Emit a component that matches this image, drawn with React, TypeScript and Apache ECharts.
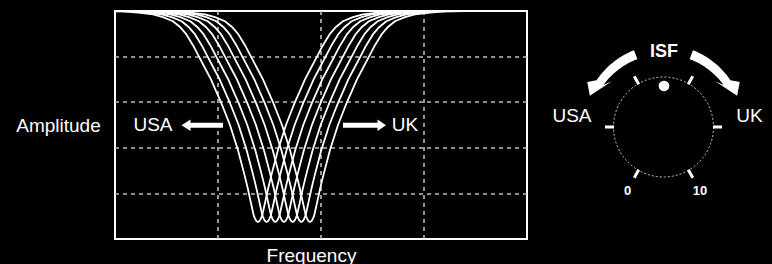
import React, { useEffect, useRef } from "react";
import * as echarts from "echarts";

// Centres (frequency, axis units) of the seven notch curves
const centers = [1.388, 1.472, 1.556, 1.64, 1.725, 1.809, 1.893];
// Notch profile: offset from centre (axis units) -> amplitude
const profileOffsets = [0, 0.0097, 0.0194, 0.0291, 0.0388, 0.0485, 0.0583, 0.068, 0.0777, 0.0971, 0.1165, 0.1359, 0.165, 0.1942, 0.233, 0.2718, 0.3107, 0.3592, 0.4078, 0.4563, 0.5146, 0.5728, 0.6311, 0.699, 0.7573, 0.8252, 0.9223, 1.0194, 1.165, 1.3107, 1.5534, 2.0];
const profileValues = [0.075, 0.077, 0.082, 0.09, 0.1, 0.118, 0.138, 0.158, 0.178, 0.218, 0.255, 0.29, 0.34, 0.39, 0.445, 0.5, 0.545, 0.6, 0.65, 0.7, 0.75, 0.8, 0.85, 0.9, 0.93, 0.955, 0.973, 0.985, 0.993, 0.998, 1, 1];

const xTicks = [0, 1, 2, 3, 4];
const yTicks = [0, 0.2, 0.4, 0.6, 0.8, 1];

const dialTicks = [0, 60, 120, 180, 240, 300];
const dialLabels = ["0", "10"];
const sideLabels = ["USA", "UK"];

const FONT = "Liberation Sans, Arial, Helvetica, sans-serif";

function buildSeriesData(c: number) {
  const pts: number[][] = [];
  for (let i = profileOffsets.length - 1; i >= 1; i--) pts.push([c - profileOffsets[i], profileValues[i]]);
  pts.push([c, profileValues[0]]);
  for (let i = 1; i < profileOffsets.length; i++) pts.push([c + profileOffsets[i], profileValues[i]]);
  return pts;
}

function polar(cx: number, cy: number, r: number, deg: number) {
  const a = (deg * Math.PI) / 180;
  return [cx + r * Math.cos(a), cy - r * Math.sin(a)];
}

function curvedArrow(cx: number, cy: number, mirror: boolean) {
  const m = (d: number) => (mirror ? 180 - d : d);
  const pts: number[][] = [];
  const a0 = 111, a1 = 145, rMid = 77.5;
  const steps = 16;
  for (let i = 0; i <= steps; i++) {
    const a = a0 + ((a1 - a0) * i) / steps;
    const w = 4.8 - 0.6 * (i / steps);
    pts.push(polar(cx, cy, rMid + w, m(a)));
  }
  pts.push(polar(cx, cy, 88.5, m(149.5)));
  pts.push(polar(cx, cy, 80, m(157)));
  pts.push(polar(cx, cy, 69, m(138.5)));
  for (let i = steps; i >= 0; i--) {
    const a = a0 + ((a1 - a0) * i) / steps;
    const w = 4.8 - 0.6 * (i / steps);
    pts.push(polar(cx, cy, rMid - w, m(a)));
  }
  return pts;
}

function straightArrow(tipX: number, baseX: number, endX: number, y: number) {
  return [
    [tipX, y],
    [baseX, y - 5.8],
    [baseX, y - 2.5],
    [endX, y - 2.5],
    [endX, y + 2.5],
    [baseX, y + 2.5],
    [baseX, y + 5.8],
  ];
}

export default function App() {
  const ref = useRef<HTMLDivElement>(null);
  useEffect(() => {
    document.body.style.margin = "0";
    document.body.style.background = "#000";
    if (!ref.current) return;
    const chart = echarts.init(ref.current, undefined, { renderer: "svg" });
    const cx = 663.5, cy = 127, r = 50;

    const graphics: any[] = [];
    const text = (t: string, x: number, y: number, size: number, weight = "normal") => ({
      type: "text",
      x,
      y,
      z: 100,
      style: { text: t, fill: "#fff", fontSize: size, fontWeight: weight, fontFamily: FONT, align: "center", verticalAlign: "middle" },
    });
    graphics.push(text("Amplitude", 58.5, 125.5, 19));
    graphics.push(text("Frequency", 311.5, 255, 19));
    graphics.push(text(sideLabels[0], 153, 124.8, 19));
    graphics.push(text(sideLabels[1], 405, 124.8, 19));
    graphics.push({ type: "polygon", z: 100, shape: { points: straightArrow(181.5, 190.5, 223, 125.3) }, style: { fill: "#fff" } });
    graphics.push({ type: "polygon", z: 100, shape: { points: straightArrow(386, 377.5, 343, 125.3) }, style: { fill: "#fff" } });

    graphics.push({ type: "circle", z: 100, shape: { cx, cy, r }, style: { fill: "none", stroke: "#c8c8c8", lineWidth: 1, lineDash: [2, 2] } });
    dialTicks.forEach((d) => {
      const p1 = polar(cx, cy, r - 0.5, d);
      const p2 = polar(cx, cy, r + 8.5, d);
      graphics.push({ type: "line", z: 100, shape: { x1: p1[0], y1: p1[1], x2: p2[0], y2: p2[1] }, style: { stroke: "#fff", lineWidth: 3 } });
    });
    graphics.push({ type: "circle", z: 100, shape: { cx: 664, cy: 86, r: 5.3 }, style: { fill: "#fff" } });
    graphics.push(text(dialLabels[0], 627.7, 190.5, 13, "bold"));
    graphics.push(text(dialLabels[1], 700, 190.5, 13, "bold"));
    graphics.push(text("ISF", 664, 50.8, 18, "bold"));
    graphics.push(text(sideLabels[0], 572, 115.5, 19));
    graphics.push(text(sideLabels[1], 749.5, 115.5, 19));
    graphics.push({ type: "polygon", z: 100, shape: { points: curvedArrow(cx, cy, false) }, style: { fill: "#fff" } });
    graphics.push({ type: "polygon", z: 100, shape: { points: curvedArrow(cx, cy, true) }, style: { fill: "#fff" } });

    const splitLine = {
      show: true,
      showMinLine: false,
      showMaxLine: false,
      lineStyle: { color: "#bdbdbd", width: 1.6, type: [4, 4] },
    };

    chart.setOption({
      animation: false,
      backgroundColor: "#000",
      grid: { left: 115, top: 11, width: 412, height: 228, show: true, borderColor: "#fff", borderWidth: 2, backgroundColor: "transparent" },
      xAxis: {
        type: "value",
        min: xTicks[0],
        max: xTicks[xTicks.length - 1],
        interval: 1,
        axisLine: { show: false },
        axisTick: { show: false },
        axisLabel: { show: false },
        splitLine,
      },
      yAxis: {
        type: "value",
        min: yTicks[0],
        max: yTicks[yTicks.length - 1],
        interval: 0.2,
        axisLine: { show: false },
        axisTick: { show: false },
        axisLabel: { show: false },
        splitLine,
      },
      series: centers.map((c) => ({
        type: "line",
        data: buildSeriesData(c),
        smooth: false,
        showSymbol: false,
        clip: true,
        lineStyle: { color: "#fff", width: 1.8, join: "round" },
        z: 5,
      })),
      graphic: graphics,
    });
    return () => chart.dispose();
  }, []);
  return <div ref={ref} style={{ width: 772, height: 264, background: "#000" }} />;
}
